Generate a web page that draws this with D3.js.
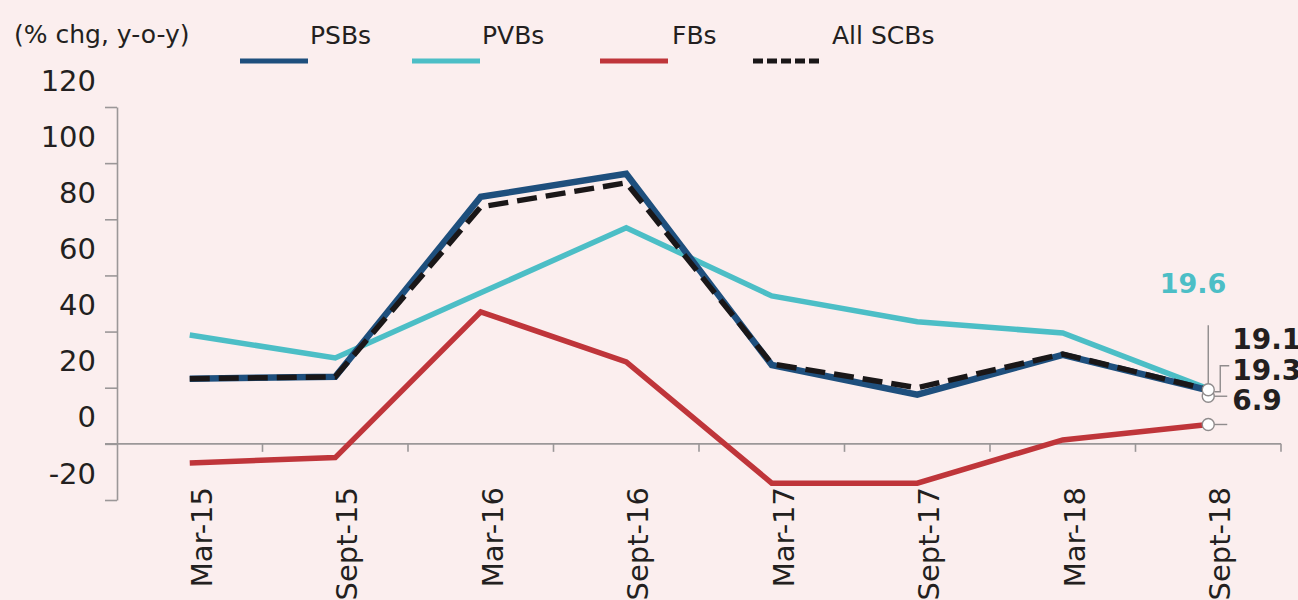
<!DOCTYPE html>
<html>
<head>
<meta charset="utf-8">
<script src="https://cdn.jsdelivr.net/npm/d3@7"></script>
<style>
  html, body { margin: 0; padding: 0; background: #fbeeee; }
  svg { display: block; }
  text { font-family: "DejaVu Sans", sans-serif; fill: #231f20; }
</style>
</head>
<body>
<svg id="chart" width="1298" height="600"></svg>
<script>
// Gross NPA growth by bank group, % change year-on-year
const periods = ["Mar-15", "Sept-15", "Mar-16", "Sept-16", "Mar-17", "Sept-17", "Mar-18", "Sept-18"];
const psbs = [23.2, 23.9, 88.0, 96.2, 28.1, 17.5, 31.7, 19.1];
const pvbs = [38.8, 30.6, 53.8, 77.0, 52.7, 43.5, 39.5, 19.6];
const fbs  = [-6.8, -4.9, 47.0, 29.2, -14.0, -14.0, 1.4, 6.9];
const scbs = [23.2, 23.9, 84.4, 93.0, 28.5, 20.0, 32.0, 19.3];
const yTicks = [-20, 0, 20, 40, 60, 80, 100, 120];
const seriesNames = ["PSBs", "PVBs", "FBs", "All SCBs"];

const colors = { PSBs: "#1e4f7d", PVBs: "#4cbec6", FBs: "#bf353a", "All SCBs": "#1a1718" };

const svg = d3.select("#chart");

const x = d3.scaleBand().domain(periods).range([117, 1281]).padding(0);
const y = d3.scaleLinear().domain([-20, 120]).range([500, 107]);
const cx = d => x(d) + x.bandwidth() / 2;

const axisColor = "#9b9798";

// y axis: labels sit half a step above their tick
const yAxis = svg.append("g").attr("transform", "translate(117,0)")
  .call(d3.axisLeft(y).tickValues(yTicks).tickSize(12).tickSizeOuter(0).tickFormat(d => String(d)));
yAxis.select(".domain").attr("stroke", axisColor).attr("stroke-width", 1.6);
yAxis.selectAll(".tick line").attr("stroke", axisColor).attr("stroke-width", 1.6);
yAxis.selectAll(".tick text")
  .attr("x", -21)
  .attr("dy", "0.35em")
  .attr("transform", `translate(0,${-(y(0) - y(10)) + 1})`)
  .style("font-size", "29px")
  .style("fill", "#231f20")
  .style("font-family", "'DejaVu Sans', sans-serif");

// x axis along zero with ticks at period boundaries
const xAxisG = svg.append("g");
xAxisG.append("line")
  .attr("x1", 105).attr("x2", x.range()[1])
  .attr("y1", y(0)).attr("y2", y(0))
  .attr("stroke", axisColor).attr("stroke-width", 1.6);
xAxisG.selectAll("line.tk").data(periods.slice(1).concat(["end"]))
  .join("line").attr("class", "tk")
  .attr("x1", d => d === "end" ? x.range()[1] : x(d))
  .attr("x2", d => d === "end" ? x.range()[1] : x(d))
  .attr("y1", y(0)).attr("y2", y(0) + 8)
  .attr("stroke", axisColor).attr("stroke-width", 1.6);
xAxisG.selectAll("text").data(periods).join("text")
  .attr("transform", d => `translate(${cx(d) + 22},487) rotate(-90)`)
  .attr("text-anchor", "end")
  .style("font-size", "29px")
  .text(d => d);

// series lines
const line = d3.line().x((d, i) => cx(periods[i])).y(d => y(d));
const drawSeries = (vals, name, width, dash) => {
  svg.append("path").datum(vals)
    .attr("d", line)
    .attr("fill", "none")
    .attr("stroke", colors[name])
    .attr("stroke-width", width)
    .attr("stroke-dasharray", dash || null)
    .attr("stroke-linejoin", "miter");
};
drawSeries(pvbs, "PVBs", 5.5);
drawSeries(psbs, "PSBs", 6.5);
drawSeries(scbs, "All SCBs", 5.5, "20,9");
drawSeries(fbs, "FBs", 5.5);

// end-point annotations
const last = periods[periods.length - 1];
const ex = cx(last);
const ann = svg.append("g");
const lead = (pts) => ann.append("polyline")
  .attr("points", pts.map(p => p.join(",")).join(" "))
  .attr("fill", "none").attr("stroke", "#8f8b8c").attr("stroke-width", 1.4);

lead([[ex, y(psbs[7]) - 4], [ex, y(psbs[7]) - 65]]);
lead([[ex + 6, y(scbs[7]) + 2], [ex + 12, y(scbs[7]) + 2], [ex + 12, y(scbs[7]) - 24], [ex + 21, y(scbs[7]) - 24]]);
lead([[ex + 5, y(psbs[7]) + 6], [ex + 19, y(psbs[7]) + 6]]);
lead([[ex + 5, y(fbs[7])], [ex + 19, y(fbs[7])]]);

const dots = [[psbs[7], 6], [scbs[7], 0], [fbs[7], 0]];
ann.selectAll("circle").data(dots).join("circle")
  .attr("cx", ex).attr("cy", d => y(d[0]) + d[1]).attr("r", 6)
  .attr("fill", "#ffffff").attr("stroke", "#8f8b8c").attr("stroke-width", 1.4);

ann.append("text").attr("x", ex + 18).attr("y", y(pvbs[7]) - 96)
  .attr("text-anchor", "end")
  .style("font-size", "27px").style("font-weight", "bold").style("fill", colors.PVBs)
  .text(pvbs[7].toFixed(1));
const blackLabels = [[psbs[7], -41], [scbs[7], -10], [fbs[7], -14]];
ann.selectAll("text.bl").data(blackLabels).join("text").attr("class", "bl")
  .attr("x", ex + 24)
  .attr("y", (d, i) => i < 2 ? y(d[0]) + d[1] : y(psbs[7]) + 20)
  .style("font-size", "28px").style("font-weight", "bold")
  .text(d => d[0].toFixed(1));

// title and legend
svg.append("text").attr("x", 14).attr("y", 43)
  .style("font-size", "25px").text("(% chg, y-o-y)");

const legendX = [240, 412, 600, 753];
const lg = svg.append("g");
seriesNames.forEach((name, i) => {
  lg.append("line")
    .attr("x1", legendX[i]).attr("x2", legendX[i] + 68)
    .attr("y1", 61).attr("y2", 61)
    .attr("stroke", colors[name]).attr("stroke-width", 5)
    .attr("stroke-dasharray", name === "All SCBs" ? "10,4" : null);
  lg.append("text")
    .attr("x", legendX[i] + (name === "FBs" ? 72 : name === "All SCBs" ? 79 : 70))
    .attr("y", 44)
    .style("font-size", "25px")
    .text(name);
});
</script>
</body>
</html>
